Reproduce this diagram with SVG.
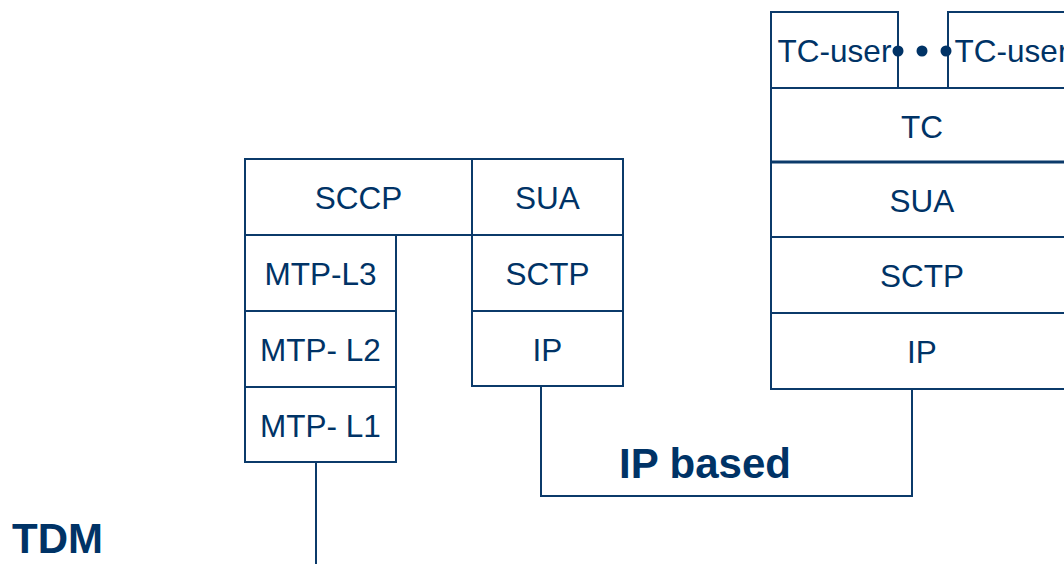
<svg xmlns="http://www.w3.org/2000/svg" width="1064" height="564" viewBox="0 0 1064 564">
<style>
.box{fill:#ffffff;stroke:#0b3a6a;stroke-width:2}
.lbl{font-family:"Liberation Sans",Arial,sans-serif;font-size:31.5px;fill:#003366;text-anchor:middle}
.big{font-family:"Liberation Sans",Arial,sans-serif;font-size:42px;font-weight:bold;fill:#003366}
.conn{fill:none;stroke:#0b3a6a;stroke-width:2}
.dot{fill:#003366}
</style>
<rect width="1064" height="564" fill="#ffffff"/>
<g id="left-stack">
  <g id="sccp"><rect class="box" x="245" y="159" width="227" height="76"/><text class="lbl" x="358.5" y="209">SCCP</text></g>
  <g id="mtp-l3"><rect class="box" x="245" y="235" width="151" height="76"/><text class="lbl" x="320.5" y="285">MTP-L3</text></g>
  <g id="mtp-l2"><rect class="box" x="245" y="311" width="151" height="76"/><text class="lbl" x="320.5" y="361">MTP- L2</text></g>
  <g id="mtp-l1"><rect class="box" x="245" y="387" width="151" height="75"/><text class="lbl" x="320.5" y="437">MTP- L1</text></g>
</g>
<g id="mid-stack">
  <g id="sua-mid"><rect class="box" x="472" y="159" width="151" height="76"/><text class="lbl" x="547.5" y="209">SUA</text></g>
  <g id="sctp-mid"><rect class="box" x="472" y="235" width="151" height="76"/><text class="lbl" x="547.5" y="285">SCTP</text></g>
  <g id="ip-mid"><rect class="box" x="472" y="311" width="151" height="75"/><text class="lbl" x="547.5" y="361">IP</text></g>
</g>
<g id="right-stack">
  <g id="tc-user-1"><rect class="box" x="771" y="12" width="127" height="76"/><text class="lbl" x="834.5" y="62">TC-user</text></g>
  <g id="tc-user-2"><rect class="box" x="948" y="12" width="127" height="76"/><text class="lbl" x="1011.5" y="62">TC-user</text></g>
  <g id="dots"><circle class="dot" cx="898" cy="51" r="5.5"/><circle class="dot" cx="922" cy="51" r="5.5"/><circle class="dot" cx="946" cy="51" r="5.5"/></g>
  <g id="tc"><rect class="box" x="771" y="88" width="304" height="74"/><text class="lbl" x="922" y="138">TC</text></g>
  <g id="sua-right"><rect class="box" x="771" y="162" width="304" height="75"/><line x1="771" y1="162" x2="1075" y2="162" stroke="#0b3a6a" stroke-width="3"/><text class="lbl" x="922" y="212">SUA</text></g>
  <g id="sctp-right"><rect class="box" x="771" y="237" width="304" height="76"/><text class="lbl" x="922" y="287">SCTP</text></g>
  <g id="ip-right"><rect class="box" x="771" y="313" width="304" height="76"/><text class="lbl" x="922" y="363">IP</text></g>
</g>
<g id="connectors">
  <polyline class="conn" points="541,386 541,496 912,496 912,389"/>
  <line class="conn" x1="316" y1="462" x2="316" y2="564"/>
</g>
<g id="labels">
  <text class="big" x="619" y="478">IP based</text>
  <text class="big" x="12" y="553">TDM</text>
</g>
</svg>
